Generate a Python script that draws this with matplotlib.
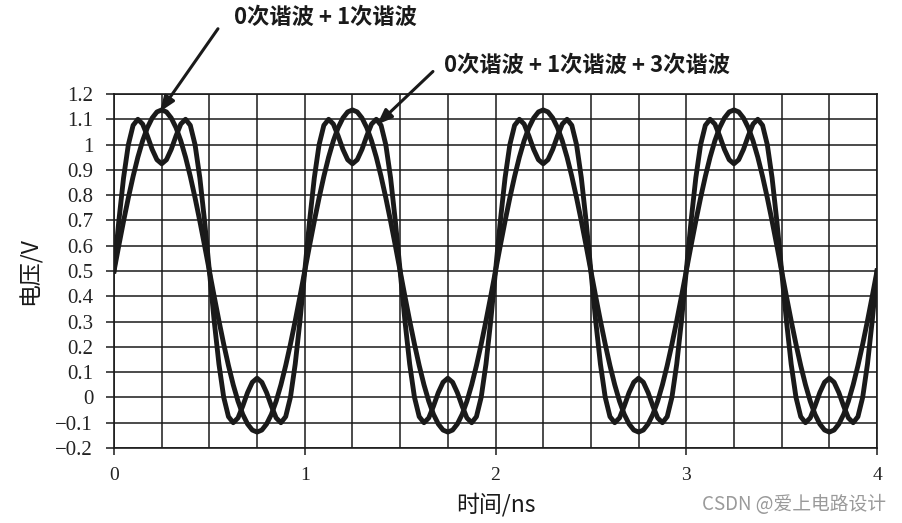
import matplotlib
matplotlib.use('Agg')
import matplotlib.pyplot as plt
from matplotlib.ticker import MultipleLocator, FuncFormatter
import numpy as np

plt.rcParams['font.family'] = ['Noto Sans CJK SC', 'DejaVu Sans']

# time axis, ns (step 0.025 ns)
t_ns = np.linspace(0, 4, 161)

# 0th + 1st harmonic, V
v_h01 = [
    0.500, 0.600, 0.697, 0.789, 0.874, 0.950, 1.015, 1.067, 1.105, 1.129,
    1.137, 1.129, 1.105, 1.067, 1.015, 0.950, 0.874, 0.789, 0.697, 0.600,
    0.500, 0.400, 0.303, 0.211, 0.126, 0.050, -0.015, -0.067, -0.105, -0.129,
    -0.137, -0.129, -0.105, -0.067, -0.015, 0.050, 0.126, 0.211, 0.303, 0.400,
    0.500, 0.600, 0.697, 0.789, 0.874, 0.950, 1.015, 1.067, 1.105, 1.129,
    1.137, 1.129, 1.105, 1.067, 1.015, 0.950, 0.874, 0.789, 0.697, 0.600,
    0.500, 0.400, 0.303, 0.211, 0.126, 0.050, -0.015, -0.067, -0.105, -0.129,
    -0.137, -0.129, -0.105, -0.067, -0.015, 0.050, 0.126, 0.211, 0.303, 0.400,
    0.500, 0.600, 0.697, 0.789, 0.874, 0.950, 1.015, 1.067, 1.105, 1.129,
    1.137, 1.129, 1.105, 1.067, 1.015, 0.950, 0.874, 0.789, 0.697, 0.600,
    0.500, 0.400, 0.303, 0.211, 0.126, 0.050, -0.015, -0.067, -0.105, -0.129,
    -0.137, -0.129, -0.105, -0.067, -0.015, 0.050, 0.126, 0.211, 0.303, 0.400,
    0.500, 0.600, 0.697, 0.789, 0.874, 0.950, 1.015, 1.067, 1.105, 1.129,
    1.137, 1.129, 1.105, 1.067, 1.015, 0.950, 0.874, 0.789, 0.697, 0.600,
    0.500, 0.400, 0.303, 0.211, 0.126, 0.050, -0.015, -0.067, -0.105, -0.129,
    -0.137, -0.129, -0.105, -0.067, -0.015, 0.050, 0.126, 0.211, 0.303, 0.400,
    0.500,
]

# 0th + 1st + 3rd harmonic, V
v_h013 = [
    0.500, 0.696, 0.868, 0.999, 1.076, 1.100, 1.081, 1.034, 0.981, 0.940,
    0.924, 0.940, 0.981, 1.034, 1.081, 1.100, 1.076, 0.999, 0.868, 0.696,
    0.500, 0.304, 0.132, 0.001, -0.076, -0.100, -0.081, -0.034, 0.019, 0.060,
    0.076, 0.060, 0.019, -0.034, -0.081, -0.100, -0.076, 0.001, 0.132, 0.304,
    0.500, 0.696, 0.868, 0.999, 1.076, 1.100, 1.081, 1.034, 0.981, 0.940,
    0.924, 0.940, 0.981, 1.034, 1.081, 1.100, 1.076, 0.999, 0.868, 0.696,
    0.500, 0.304, 0.132, 0.001, -0.076, -0.100, -0.081, -0.034, 0.019, 0.060,
    0.076, 0.060, 0.019, -0.034, -0.081, -0.100, -0.076, 0.001, 0.132, 0.304,
    0.500, 0.696, 0.868, 0.999, 1.076, 1.100, 1.081, 1.034, 0.981, 0.940,
    0.924, 0.940, 0.981, 1.034, 1.081, 1.100, 1.076, 0.999, 0.868, 0.696,
    0.500, 0.304, 0.132, 0.001, -0.076, -0.100, -0.081, -0.034, 0.019, 0.060,
    0.076, 0.060, 0.019, -0.034, -0.081, -0.100, -0.076, 0.001, 0.132, 0.304,
    0.500, 0.696, 0.868, 0.999, 1.076, 1.100, 1.081, 1.034, 0.981, 0.940,
    0.924, 0.940, 0.981, 1.034, 1.081, 1.100, 1.076, 0.999, 0.868, 0.696,
    0.500, 0.304, 0.132, 0.001, -0.076, -0.100, -0.081, -0.034, 0.019, 0.060,
    0.076, 0.060, 0.019, -0.034, -0.081, -0.100, -0.076, 0.001, 0.132, 0.304,
    0.500,
]

label_h01 = '0次谐波 + 1次谐波'
label_h013 = '0次谐波 + 1次谐波 + 3次谐波'

ink = '#1a1a1a'
serif = ['Liberation Serif', 'DejaVu Serif']

fig = plt.figure(figsize=(9.02, 5.23), dpi=100)
ax = fig.add_axes([0.1264, 0.1434, 0.8459, 0.6769])

ax.plot(t_ns, v_h01, color=ink, lw=3.5, solid_joinstyle='round', zorder=3)
ax.plot(t_ns, v_h013, color=ink, lw=3.5, solid_joinstyle='round', zorder=3)

ax.set_xlim(0, 4)
ax.set_ylim(-0.2, 1.2)
ax.xaxis.set_major_locator(MultipleLocator(1))
ax.xaxis.set_minor_locator(MultipleLocator(0.25))
ax.yaxis.set_major_locator(MultipleLocator(0.1))
ax.yaxis.set_major_formatter(FuncFormatter(
    lambda v, p: ('%g' % round(v, 2)).replace('-', '\u2212')))

ax.grid(which='both', axis='x', color=ink, lw=1.1)
ax.grid(which='major', axis='y', color=ink, lw=1.1)
ax.set_axisbelow(True)
for s in ax.spines.values():
    s.set_color(ink)
    s.set_linewidth(1.2)

ax.tick_params(axis='x', which='major', direction='out', length=5, width=1.1,
               color=ink, pad=9, labelsize=14)
ax.tick_params(axis='x', which='minor', length=0)
ax.tick_params(axis='y', direction='out', length=6, width=1.1, color=ink,
               pad=9, labelsize=15)
for lab in ax.get_xticklabels() + ax.get_yticklabels():
    lab.set_family(serif)
    lab.set_color('#222222')

ax.set_ylabel('电压/V', fontsize=16.5, labelpad=10, color=ink)
ax.set_xlabel('时间/ns', fontsize=16.5, labelpad=6, color=ink)

arrow = dict(arrowstyle='-|>,head_length=0.9,head_width=0.35', color=ink,
             lw=2.2, shrinkA=0, shrinkB=0)
ax.annotate('', xy=(0.241, 1.130), xytext=(0.545, 1.458), arrowprops=arrow,
            annotation_clip=False)
ax.annotate('', xy=(1.379, 1.079), xytext=(1.672, 1.289), arrowprops=arrow,
            annotation_clip=False)
ax.text(1.106, 1.502, label_h01, fontsize=16, fontweight='bold',
        ha='center', va='center', color=ink)
ax.text(1.730, 1.312, label_h013, fontsize=16, fontweight='bold',
        ha='left', va='center', color=ink)

fig.text(0.982, 0.035, 'CSDN @爱上电路设计', fontsize=13.5, color='#9a9a9a',
         ha='right', va='center')

fig.savefig('out.png', dpi=100)
